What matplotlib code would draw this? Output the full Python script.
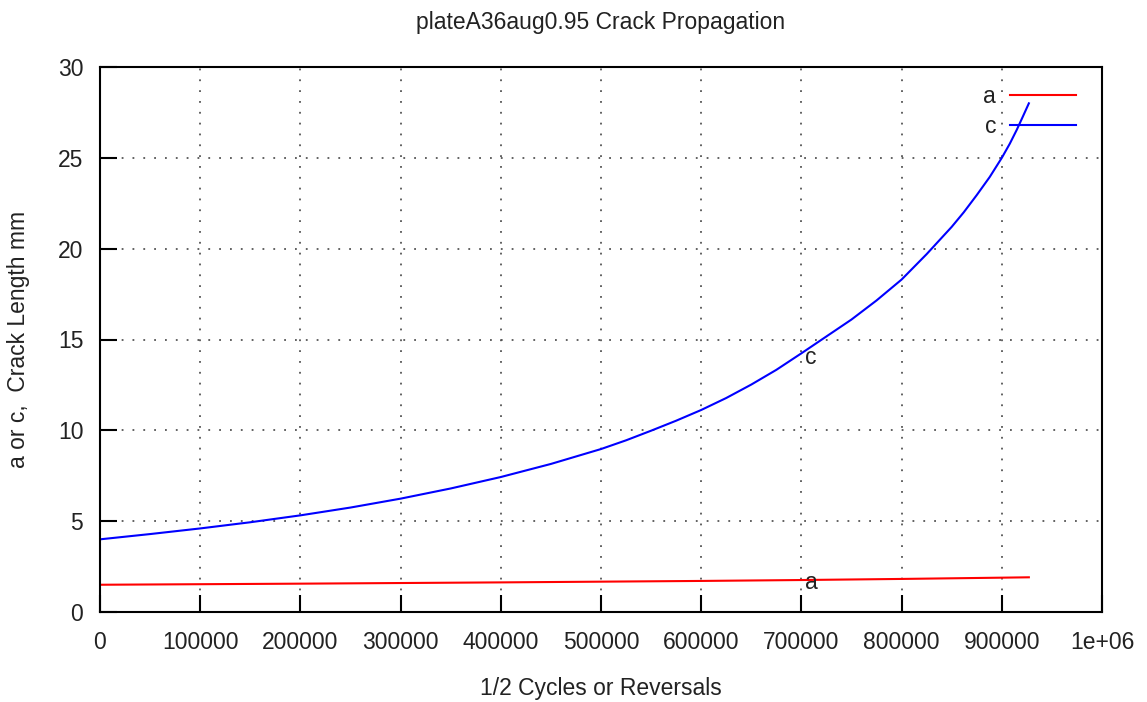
import matplotlib.pyplot as plt
from matplotlib.lines import Line2D

# half cycles vs crack length (mm)
cycles_c = [0, 50000, 100000, 150000, 200000, 250000, 300000, 350000, 400000,
            450000, 500000, 525000, 550000, 575000, 600000, 625000, 650000,
            675000, 700000, 725000, 750000, 775000, 800000, 825000, 850000,
            862000, 875000, 888000, 900000, 908000, 915000, 921000, 927000]
c_len = [4.0, 4.29, 4.6, 4.94, 5.32, 5.75, 6.24, 6.8, 7.43,
         8.15, 8.97, 9.45, 9.98, 10.53, 11.12, 11.78, 12.52,
         13.33, 14.24, 15.17, 16.1, 17.15, 18.3, 19.7, 21.2,
         22.0, 22.95, 23.95, 25.0, 25.78, 26.55, 27.27, 28.0]

cycles_a = [0, 200000, 400000, 600000, 700000, 800000, 900000, 927000]
a_len = [1.5, 1.56, 1.63, 1.71, 1.76, 1.82, 1.89, 1.91]

xticks = [0, 100000, 200000, 300000, 400000, 500000, 600000, 700000, 800000, 900000, 1000000]
xticklabels = ['0', '100000', '200000', '300000', '400000', '500000',
               '600000', '700000', '800000', '900000', '1e+06']
yticks = [0, 5, 10, 15, 20, 25, 30]

plt.rcParams['font.family'] = ['Liberation Sans', 'DejaVu Sans']
txt = '#222222'

fig = plt.figure(figsize=(11.47, 7.02), dpi=100)
ax = fig.add_axes([100 / 1147, 90 / 702, 1002 / 1147, 545 / 702])

ax.plot(cycles_a, a_len, color='#ff0000', lw=1.5, label='a')
ax.plot(cycles_c, c_len, color='#0000ff', lw=1.5, label='c')

ax.set_xlim(0, 1000000)
ax.set_ylim(0, 30)
ax.set_xticks(xticks)
ax.set_xticklabels(xticklabels)
ax.set_yticks(yticks)
ax.tick_params(direction='in', length=12, width=1.5, labelsize=16.5,
               colors='black', labelcolor=txt, pad=14)
ax.tick_params(axis='y', pad=12)
for s in ax.spines.values():
    s.set_linewidth(1.5)
    s.set_color('black')

ax.grid(True, color='#555555', linestyle=(0, (1, 5)), linewidth=1.3)

# curve labels
ax.text(704000, 14.0, 'c', fontsize=16.5, color=txt, ha='left', va='center')
ax.text(704000, 1.6, 'a', fontsize=16.5, color=txt, ha='left', va='center')

handles = [Line2D([], [], color='#ff0000', lw=1.5),
           Line2D([], [], color='#0000ff', lw=1.5)]
ax.legend(handles, ['a', 'c'], loc='upper right', frameon=False,
          markerfirst=False, fontsize=16.5, handlelength=2.9,
          handletextpad=0.6, labelspacing=0.33, bbox_to_anchor=(0.995, 1.005),
          labelcolor=txt)

ax.set_title('plateA36aug0.95 Crack Propagation', fontsize=16.5, color=txt, pad=27)
ax.set_xlabel('1/2 Cycles or Reversals', fontsize=16.5, color=txt, labelpad=16)
ax.set_ylabel('a or c,  Crack Length mm', fontsize=16.5, color=txt, labelpad=20)

fig.savefig('out.png', dpi=100)
